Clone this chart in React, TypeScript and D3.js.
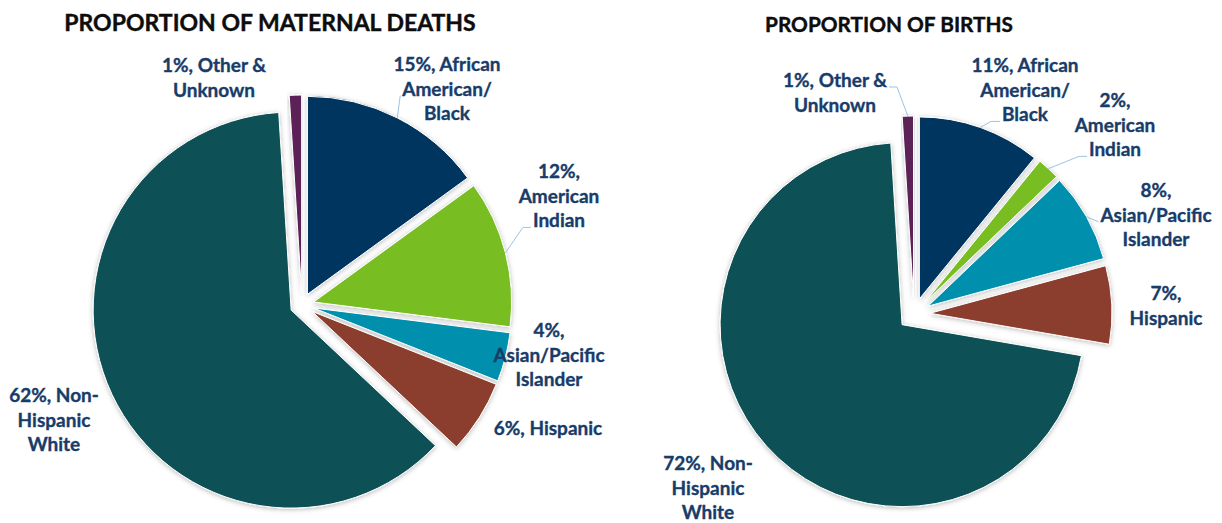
import { useEffect, useRef } from 'react'
import * as d3 from 'd3'

// Race / ethnicity groups, in slice order (clockwise from 12 o'clock)
const GROUPS = [
  'African American/Black',
  'American Indian',
  'Asian/Pacific Islander',
  'Hispanic',
  'Non-Hispanic White',
  'Other & Unknown',
]
const DEATHS = [15, 12, 4, 6, 62, 1]
const BIRTHS = [11, 2, 8, 7, 72, 1]
const COLORS = ['#02355f', '#78be20', '#0290ad', '#8b3e2f', '#0f5156', '#5c2458']
const TITLES = ['PROPORTION OF MATERNAL DEATHS', 'PROPORTION OF BIRTHS']

// label text split per line, as Excel wrapped it
const DEATH_LABELS = [
  ['15%, African', 'American/', 'Black'],
  ['12%,', 'American', 'Indian'],
  ['4%,', 'Asian/Pacific', 'Islander'],
  ['6%, Hispanic'],
  ['62%, Non-', 'Hispanic', 'White'],
  ['1%, Other &', 'Unknown'],
]
const BIRTH_LABELS = [
  ['11%, African', 'American/', 'Black'],
  ['2%,', 'American', 'Indian'],
  ['8%,', 'Asian/Pacific', 'Islander'],
  ['7%,', 'Hispanic'],
  ['72%, Non-', 'Hispanic', 'White'],
  ['1%, Other &', 'Unknown'],
]

type Leader = { line: number; side: 'left' | 'right'; elbow: number }
type LabelPos = { dx: number; dy: number; leader?: Leader }

// layout: label offsets are from the pie centre to the first baseline
const PANELS = [
  {
    title: TITLES[0], values: DEATHS, lines: DEATH_LABELS,
    cx: 302, cy: 305, r: 198, explode: 12,
    titleX: 270, titleY: 31, titleSize: 23,
    labels: [
      { dx: 145, dy: -234, leader: { line: 1, side: 'left', elbow: 0 } },
      { dx: 257, dy: -127, leader: { line: 2, side: 'left', elbow: 8 } },
      { dx: 247, dy: 32 },
      { dx: 246, dy: 130 },
      { dx: -248, dy: 97 },
      { dx: -88, dy: -233 },
    ] as LabelPos[],
  },
  {
    title: TITLES[1], values: BIRTHS, lines: BIRTH_LABELS,
    cx: 914, cy: 314, r: 182, explode: 16,
    titleX: 889, titleY: 32, titleSize: 20.8,
    labels: [
      { dx: 111, dy: -242, leader: { line: 2, side: 'left', elbow: 9 } },
      { dx: 201, dy: -207, leader: { line: 2, side: 'left', elbow: 8 } },
      { dx: 242, dy: -117, leader: { line: 1, side: 'left', elbow: 0 } },
      { dx: 252, dy: -14 },
      { dx: -206, dy: 156 },
      { dx: -79, dy: -227, leader: { line: 0, side: 'right', elbow: 8 } },
    ] as LabelPos[],
  },
]

const LINE_H = 24.7
const LABEL_FONT = "Lato, 'Open Sans', sans-serif"
const LABEL_COLOR = '#183c69'

export default function App() {
  const svgRef = useRef<SVGSVGElement>(null)

  useEffect(() => {
    const svg = d3.select(svgRef.current)
    svg.selectAll('*').remove()

    const filter = svg.append('defs').append('filter')
      .attr('id', 'soft')
      .attr('x', '-10%').attr('y', '-10%')
      .attr('width', '120%').attr('height', '120%')
    filter.append('feDropShadow')
      .attr('dx', 0).attr('dy', 1)
      .attr('stdDeviation', 2.5)
      .attr('flood-color', '#000')
      .attr('flood-opacity', 0.28)

    PANELS.forEach(p => {
      const g = svg.append('g')
      const pie = d3.pie<number>().sort(null).value(d => d)
      const arcs = pie(p.values)
      const arc = d3.arc<d3.PieArcDatum<number>>().innerRadius(0).outerRadius(p.r)

      // slices, each pushed out along its mid angle
      arcs.forEach((a, i) => {
        const mid = (a.startAngle + a.endAngle) / 2
        const ox = p.cx + Math.sin(mid) * p.explode
        const oy = p.cy - Math.cos(mid) * p.explode
        g.append('path')
          .attr('d', arc(a))
          .attr('transform', `translate(${ox},${oy})`)
          .attr('fill', COLORS[i])
          .attr('stroke', '#fff')
          .attr('stroke-width', 1)
          .attr('filter', 'url(#soft)')
          .append('title').text(`${GROUPS[i]}: ${p.values[i]}%`)
      })

      // data labels
      arcs.forEach((a, i) => {
        const pos = p.labels[i]
        const x = p.cx + pos.dx
        const texts = p.lines[i].map((line, k) =>
          g.append('text')
            .attr('x', x)
            .attr('y', p.cy + pos.dy + k * LINE_H)
            .attr('text-anchor', 'middle')
            .attr('font-family', LABEL_FONT)
            .attr('font-weight', 700)
            .attr('font-size', 19)
            .attr('fill', LABEL_COLOR)
            .attr('stroke', LABEL_COLOR)
            .attr('stroke-width', 0.35)
            .text(line)
        )

        if (pos.leader) {
          const { line, side, elbow } = pos.leader
          const node = texts[line].node() as SVGTextElement
          const w = node.getComputedTextLength()
          const y = p.cy + pos.dy + line * LINE_H
          const sx = side === 'left' ? x - w / 2 - 2 : x + w / 2 + 2
          const ex = side === 'left' ? sx - elbow : sx + elbow
          const mid = (a.startAngle + a.endAngle) / 2
          const tx = p.cx + Math.sin(mid) * (p.explode + p.r)
          const ty = p.cy - Math.cos(mid) * (p.explode + p.r)
          g.append('path')
            .attr('d', d3.line()([[sx, y], [ex, y], [tx, ty]]))
            .attr('fill', 'none')
            .attr('stroke', '#9dc3e6')
            .attr('stroke-width', 1)
        }
      })

      g.append('text')
        .attr('x', p.titleX)
        .attr('y', p.titleY)
        .attr('text-anchor', 'middle')
        .attr('font-family', LABEL_FONT)
        .attr('font-weight', 700)
        .attr('font-size', p.titleSize)
        .attr('fill', '#0d0d0d')
        .attr('stroke', '#0d0d0d')
        .attr('stroke-width', 0.4)
        .text(p.title)
    })
  }, [])

  return (
    <>
      <style>{'body{margin:0;background:#fff}'}</style>
      <svg ref={svgRef} width={1222} height={523} style={{ display: 'block' }} />
    </>
  )
}
